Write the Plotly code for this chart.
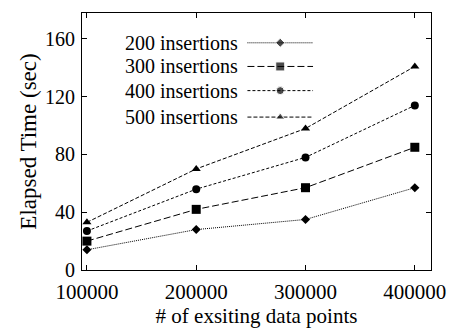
import plotly.graph_objects as go

x_points = [100000, 200000, 300000, 400000]
series_names = ["200 insertions", "300 insertions", "400 insertions", "500 insertions"]
y_200 = [14, 28, 35, 57]
y_300 = [20, 42, 57, 85]
y_400 = [27, 56, 78, 114]
y_500 = [33, 70, 98, 141]
y_ticks = [0, 40, 80, 120, 160]
x_ticks = [100000, 200000, 300000, 400000]

series = [y_200, y_300, y_400, y_500]
symbols = ["diamond", "square", "circle", "triangle-up"]
sizes = [7, 9, 8, 8]
dashes = ["1px,1px", "7px,3px", "3px,2px", "4px,2px"]

FONT = "Liberation Serif"
fig = go.Figure()

for name, ys, sym, sz, dash in zip(series_names, series, symbols, sizes, dashes):
    fig.add_trace(go.Scatter(
        x=x_points, y=ys, mode="lines+markers", name=name,
        line=dict(color="black", width=1, dash=dash),
        marker=dict(symbol=sym, size=sz, color="black"),
        showlegend=False,
    ))

# custom gnuplot-style legend (text left, sample right)
leg_rows = [0.884, 0.792, 0.698, 0.595]
lx0, lxm, lx1, ltext = 0.474, 0.568, 0.662, 0.452
for name, sym, sz, dash, ry in zip(series_names, symbols, sizes, dashes, leg_rows):
    fig.add_trace(go.Scatter(
        x=[lx0, lxm, lx1], y=[ry, ry, ry], mode="lines+markers",
        xaxis="x2", yaxis="y2",
        line=dict(color="black", width=1, dash=dash),
        marker=dict(symbol=sym, size=[0, sz, 0], color="black"),
        showlegend=False, hoverinfo="skip",
    ))
    fig.add_annotation(x=ltext, y=ry, xref="paper", yref="paper", text=name,
                       showarrow=False, xanchor="right", yanchor="middle",
                       font=dict(family=FONT, size=20, color="black"))

axis_common = dict(showgrid=False, zeroline=False, showline=True, linecolor="black",
                   linewidth=1, mirror="allticks", ticks="inside", ticklen=5,
                   tickcolor="black")

fig.update_layout(
    width=458, height=334,
    margin=dict(l=82, r=24, t=13, b=62),
    paper_bgcolor="white", plot_bgcolor="white",
    xaxis=dict(range=[95500, 414800], tickvals=x_ticks, ticktext=[str(v) for v in x_ticks],
               tickfont=dict(family=FONT, size=21, color="black"), ticklabelstandoff=3,
               title=dict(text="# of exsiting data points", font=dict(family=FONT, size=21, color="black"), standoff=3),
               **axis_common),
    yaxis=dict(range=[0, 178], tickvals=y_ticks,
               tickfont=dict(family=FONT, size=20, color="black"), ticklabelstandoff=2,
               title=dict(text="Elapsed Time (sec)", font=dict(family=FONT, size=23, color="black"), standoff=1),
               **axis_common),
    xaxis2=dict(range=[0, 1], overlaying="x", visible=False, fixedrange=True),
    yaxis2=dict(range=[0, 1], overlaying="y", visible=False, fixedrange=True),
)

fig.write_html("out.html")
